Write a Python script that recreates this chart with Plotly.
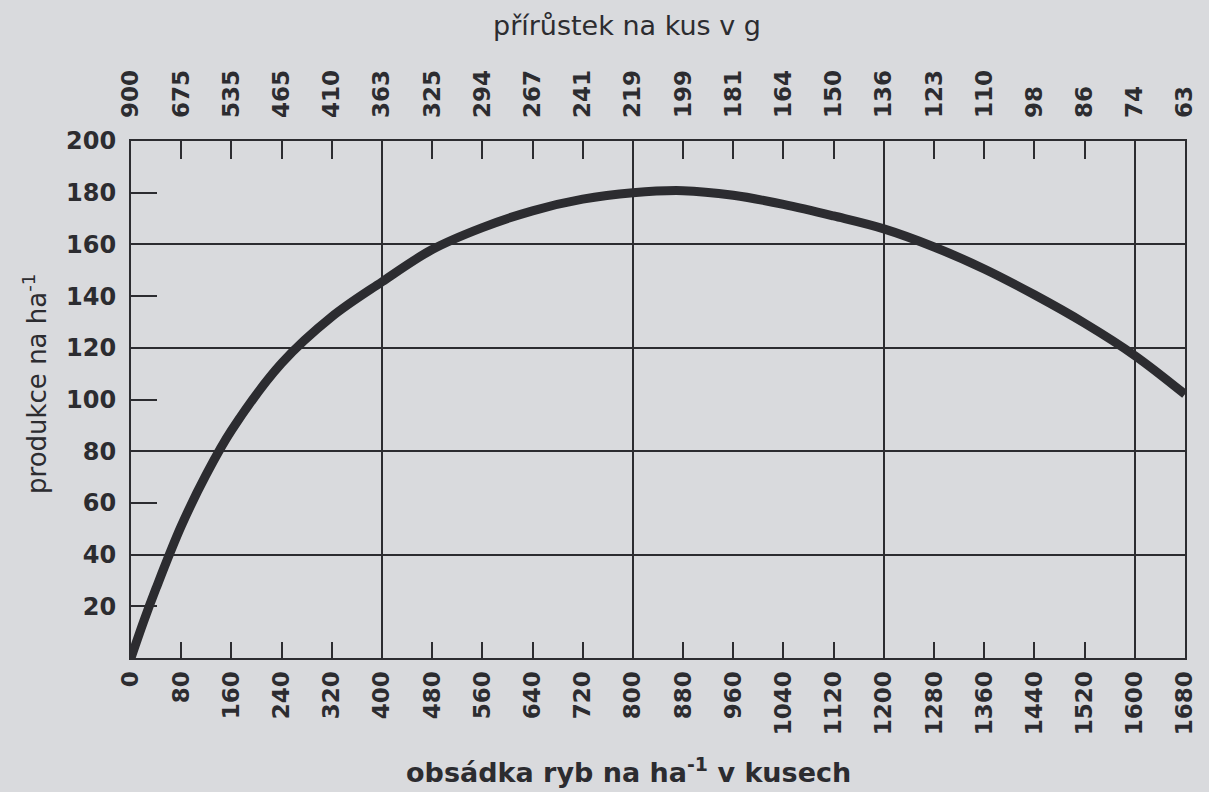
import plotly.graph_objects as go

# Data
stock = [0, 20, 40, 80, 120, 160, 240, 320, 400, 480, 560, 640, 720, 800, 880,
         960, 1040, 1120, 1200, 1280, 1360, 1440, 1520, 1600, 1680]
production = [0, 14, 27, 51, 71, 88, 114, 132, 145.5, 158, 166.5, 173, 177.5, 180, 180.8,
              179, 175.5, 171, 166, 159, 150.5, 140.5, 129.5, 117, 102]

bottom_ticks = list(range(0, 1681, 80))
bottom_labels = [str(v) for v in bottom_ticks]
top_labels = ["900", "675", "535", "465", "410", "363", "325", "294", "267", "241", "219",
              "199", "181", "164", "150", "136", "123", "110", "98", "86", "74", "63"]
y_ticks = list(range(20, 201, 20))

ink = "#2c2c30"
bg = "#d9dadd"
font_family = "DejaVu Sans, Liberation Sans, Arial, sans-serif"

fig = go.Figure()
fig.add_trace(go.Scatter(x=stock, y=production, mode="lines",
                         line=dict(color=ink, width=9, shape="spline", smoothing=1.0),
                         hoverinfo="skip", showlegend=False))
fig.add_trace(go.Scatter(x=stock, y=production, mode="lines", xaxis="x2",
                         line=dict(color="rgba(0,0,0,0)", width=0),
                         hoverinfo="skip", showlegend=False))

tickfont = dict(family=font_family, size=23, color=ink)

fig.update_layout(
    width=1209, height=792,
    paper_bgcolor=bg, plot_bgcolor=bg,
    margin=dict(l=131, r=17, t=141, b=134),
    font=dict(family=font_family, color=ink),
    xaxis=dict(
        range=[0, 1680], tickvals=bottom_ticks, ticktext=["<b>%s</b>" % t for t in bottom_labels],
        tickangle=-90, tickfont=tickfont, ticks="inside", ticklen=16, tickwidth=2, tickcolor=ink,
        showgrid=False, zeroline=False, showline=True, linecolor=ink, linewidth=2, mirror=True,
        ticklabelstandoff=2,
        minor=dict(dtick=400, tick0=0, showgrid=True, gridcolor=ink, gridwidth=2, ticks=""),
    ),
    xaxis2=dict(
        range=[0, 1680], overlaying="x", side="top", tickvals=bottom_ticks,
        ticktext=["<b>%s</b>" % t for t in top_labels], tickangle=-90, tickfont=tickfont,
        ticks="inside", ticklen=18, tickwidth=2, tickcolor=ink, showgrid=False, zeroline=False,
        showline=False, ticklabelstandoff=22,
    ),
    yaxis=dict(
        range=[0, 200], tickvals=y_ticks, ticktext=["<b>%d</b>" % v for v in y_ticks],
        tickfont=dict(family=font_family, size=24, color=ink), ticks="inside", ticklen=26,
        tickwidth=2, tickcolor=ink, showgrid=False, zeroline=False, showline=True,
        linecolor=ink, linewidth=2, mirror=True, ticklabelstandoff=8,
        minor=dict(dtick=40, tick0=0, showgrid=True, gridcolor=ink, gridwidth=2, ticks=""),
    ),
    annotations=[
        dict(text="<b>obsádka ryb na ha<sup>-1</sup> v kusech</b>", xref="paper", yref="paper",
             x=0.472, y=0, xanchor="center", yanchor="middle", yshift=-112, showarrow=False,
             font=dict(family=font_family, size=27, color=ink)),
        dict(text="přírůstek na kus v g", xref="paper", yref="paper",
             x=0.471, y=1, xanchor="center", yanchor="middle", yshift=116, showarrow=False,
             font=dict(family=font_family, size=27, color=ink)),
        dict(text="produkce na ha<sup>-1</sup>", xref="paper", yref="paper",
             x=0, y=0.53, xanchor="center", yanchor="middle", xshift=-96, textangle=-90,
             showarrow=False, font=dict(family=font_family, size=26, color=ink)),
    ],
)

fig.write_html("out.html", config={"displayModeBar": False},
               post_script="document.body.style.margin='0';document.body.style.background='%s';" % bg)
